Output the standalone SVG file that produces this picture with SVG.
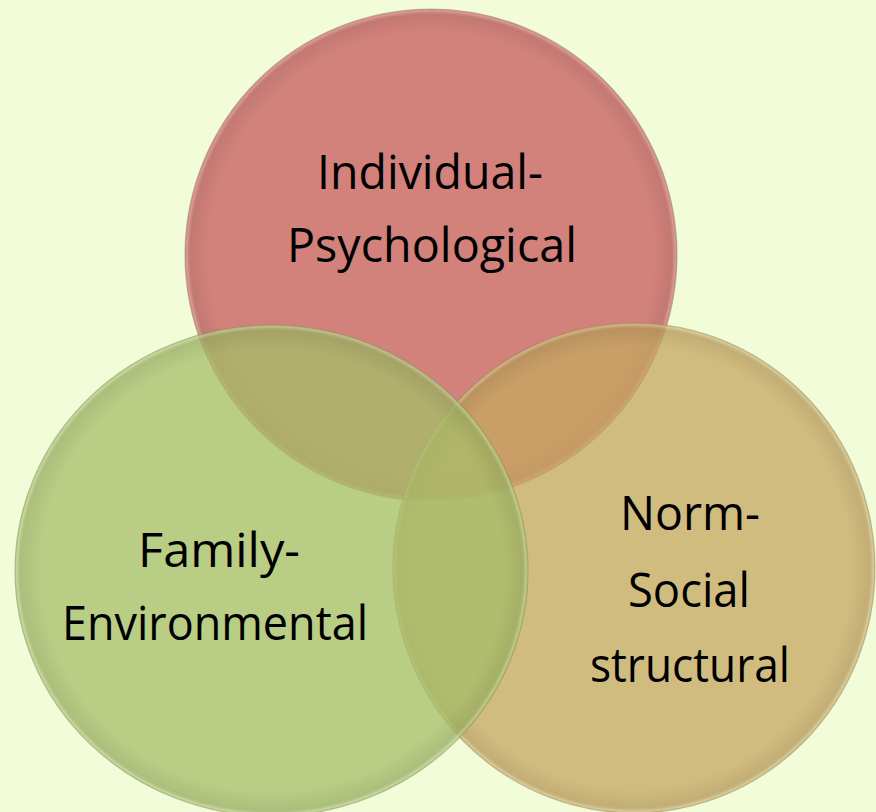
<svg xmlns="http://www.w3.org/2000/svg" width="876" height="812" viewBox="0 0 876 812">
  <defs>
    <radialGradient id="bevel" cx="0.5" cy="0.5" r="0.5">
      <stop offset="0" stop-color="#000" stop-opacity="0"/>
      <stop offset="0.9" stop-color="#000" stop-opacity="0"/>
      <stop offset="0.975" stop-color="#000" stop-opacity="0.07"/>
      <stop offset="0.992" stop-color="#fff" stop-opacity="0.18"/>
      <stop offset="1" stop-color="#fff" stop-opacity="0.05"/>
    </radialGradient>
    <style>
      .set { fill-opacity: 0.75; stroke: #8a8a60; stroke-opacity: 0.5; stroke-width: 1.2; }
      .bev { fill: url(#bevel); stroke: none; }
      .lbl { font-family: "Open Sans", "Noto Sans", "DejaVu Sans", sans-serif; font-size: 47px; font-weight: 400; fill: #000; text-anchor: middle; }
    </style>
  </defs>
  <rect x="0" y="0" width="876" height="812" fill="#f2fcd9"/>
  <g id="individual-psychological">
    <ellipse class="set" cx="431" cy="255" rx="246" ry="246" fill="#c7595b"/>
    <ellipse class="bev" cx="431" cy="255" rx="246" ry="246"/>
  </g>
  <g id="norm-social-structural">
    <ellipse class="set" cx="634" cy="568" rx="241" ry="245" fill="#c6a760"/>
    <ellipse class="bev" cx="634" cy="568" rx="241" ry="245"/>
  </g>
  <g id="family-environmental">
    <ellipse class="set" cx="271.5" cy="570.5" rx="256.5" ry="245.5" fill="#a5bd68"/>
    <ellipse class="bev" cx="271.5" cy="570.5" rx="256.5" ry="245.5"/>
  </g>
  <g id="labels">
    <text class="lbl" x="430" y="189" textLength="226" lengthAdjust="spacingAndGlyphs">Individual-</text>
    <text class="lbl" x="432" y="262" textLength="290" lengthAdjust="spacingAndGlyphs">Psychological</text>
    <text class="lbl" x="219" y="567" textLength="162" lengthAdjust="spacingAndGlyphs">Family-</text>
    <text class="lbl" x="215" y="640" textLength="306" lengthAdjust="spacingAndGlyphs">Environmental</text>
    <text class="lbl" x="690" y="530" textLength="140" lengthAdjust="spacingAndGlyphs">Norm-</text>
    <text class="lbl" x="689" y="607" textLength="122" lengthAdjust="spacingAndGlyphs">Social</text>
    <text class="lbl" x="690" y="682" textLength="200" lengthAdjust="spacingAndGlyphs">structural</text>
  </g>
</svg>
